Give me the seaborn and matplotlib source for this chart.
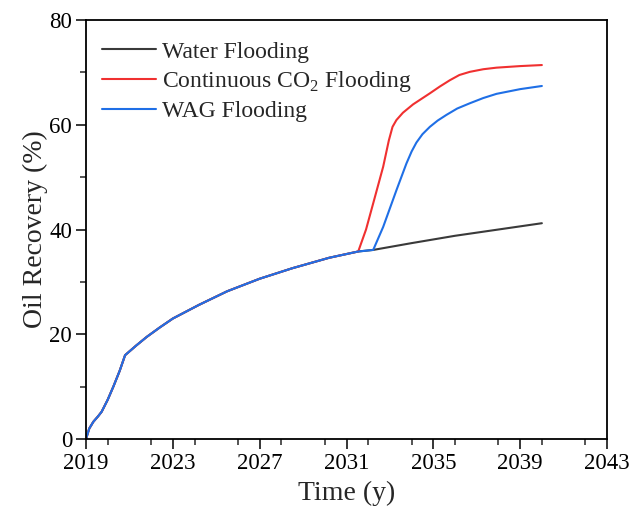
import numpy as np
import pandas as pd
import matplotlib
matplotlib.use("Agg")
import matplotlib.pyplot as plt
import seaborn as sns
from matplotlib.ticker import MultipleLocator

# --- data ---
water_t = [2019.0, 2019.15, 2019.34, 2019.55, 2019.72, 2020.0, 2020.26, 2020.55, 2020.80,
           2021.3, 2021.8, 2022.4, 2023.0, 2024.2, 2025.5, 2027.0, 2028.5, 2030.2,
           2031.54, 2032.23, 2034.0, 2036.0, 2038.0, 2040.0]
water_r = [0.0, 2.0, 3.3, 4.3, 5.2, 7.5, 10.0, 13.0, 16.0,
           17.8, 19.5, 21.3, 23.0, 25.6, 28.2, 30.6, 32.6, 34.6,
           35.8, 36.1, 37.4, 38.8, 40.0, 41.2]

co2_t = [2031.54, 2031.9, 2032.23, 2032.69, 2032.95, 2033.12, 2033.3, 2033.6, 2034.07,
         2034.84, 2035.3, 2035.76, 2036.2, 2036.68, 2037.3, 2037.91, 2039.0, 2040.0]
co2_r = [35.8, 40.0, 45.0, 52.0, 57.0, 59.6, 60.9, 62.3, 63.9,
         66.0, 67.3, 68.5, 69.5, 70.1, 70.6, 70.9, 71.2, 71.4]

wag_t = [2032.23, 2032.69, 2033.3, 2033.76, 2034.0, 2034.22, 2034.5, 2034.84, 2035.2,
         2035.61, 2036.1, 2036.68, 2037.3, 2037.91, 2039.0, 2040.0]
wag_r = [36.1, 40.5, 47.5, 52.6, 54.9, 56.6, 58.2, 59.6, 60.8,
         61.9, 63.1, 64.1, 65.1, 65.9, 66.8, 67.4]

labels = ["Water Flooding", "Continuous CO$_\\mathregular{2}$ Flooding", "WAG Flooding"]
colors = ["#3a3a3a", "#F03030", "#1F6FE6"]

x_ticks = [2019, 2023, 2027, 2031, 2035, 2039, 2043]
y_ticks = [0, 20, 40, 60, 80]

# build full series (WAG / CO2 follow water flooding until injection starts)
def full(t, r):
    pre = [(a, b) for a, b in zip(water_t, water_r) if a < t[0]]
    tt = [p[0] for p in pre] + list(t)
    rr = [p[1] for p in pre] + list(r)
    return tt, rr

series = [(water_t, water_r), full(co2_t, co2_r), full(wag_t, wag_r)]

sns.set_theme(style="ticks")
plt.rcParams["font.family"] = ["Liberation Serif", "DejaVu Serif"]
plt.rcParams["mathtext.fontset"] = "custom"
plt.rcParams["mathtext.rm"] = "Liberation Serif"

fig = plt.figure(figsize=(6.3, 5.16), dpi=100)
ax = fig.add_axes([86 / 630, (516 - 439) / 516, (607 - 86) / 630, (439 - 20) / 516])

for (t, r), lab, c in zip(series, labels, colors):
    df = pd.DataFrame({"t": t, "r": r})
    sns.lineplot(data=df, x="t", y="r", ax=ax, color=c, lw=1.5, label=lab, sort=False)

ax.set_xlim(2019, 2043)
ax.set_ylim(0, 80)
ax.set_xticks(x_ticks)
ax.set_yticks(y_ticks)
ax.xaxis.set_minor_locator(MultipleLocator(2))
ax.yaxis.set_minor_locator(MultipleLocator(10))
ax.tick_params(which="major", direction="out", length=7, width=1.1, labelsize=16.5,
               colors="black", pad=3)
ax.tick_params(which="minor", direction="out", length=4, width=1.1)
for s in ax.spines.values():
    s.set_linewidth(1.3)
    s.set_color("black")

ax.set_xlabel("Time (y)", fontsize=20, labelpad=5)
ax.set_ylabel("Oil Recovery (%)", fontsize=20, labelpad=1)

leg = ax.legend(loc="upper left", frameon=False, fontsize=17, handlelength=2.3,
                handletextpad=0.25, labelspacing=0.28, borderaxespad=0.28,
                bbox_to_anchor=(0.0, 0.988))

fig.savefig("out.png", dpi=100)
